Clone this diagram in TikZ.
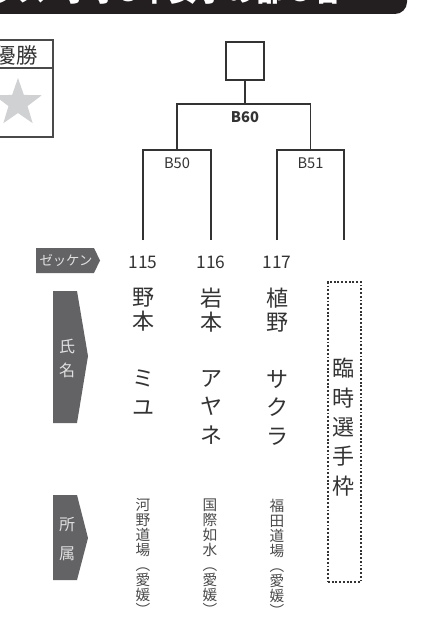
\documentclass[tikz,border=0pt]{standalone}
\usepackage{fontspec}
\setmainfont{Noto Sans CJK JP}
\usetikzlibrary{shapes.geometric}
\definecolor{ink}{HTML}{333333}
\definecolor{subink}{HTML}{4A4A4A}
\definecolor{tabgray}{HTML}{636366}
\definecolor{stargray}{HTML}{D0D1D3}
\definecolor{hdr}{HTML}{231F20}
\tikzset{
  line/.style={draw=ink, line width=1.1pt},
  num/.style={text=ink, font=\fontsize{13}{13}\selectfont, inner sep=0pt},
  sname/.style={text=ink, font=\fontsize{16.5}{18}\selectfont, align=center, inner sep=0pt},
  gname/.style={text=ink, font=\fontsize{16.5}{21.4}\selectfont, align=center, inner sep=0pt},
  club/.style={text=subink, font=\fontsize{11}{11.25}\selectfont, align=center, inner sep=0pt},
  tab/.style={fill=tabgray},
  tabtext/.style={text=white!88!black, inner sep=0pt, align=center},
  rnd/.style={text=ink, font=\fontsize{11}{11}\selectfont, inner sep=0pt},
}
\begin{document}
\begin{tikzpicture}[x=0.75pt,y=0.75pt,yscale=-1,xscale=1]
\clip (0,0) rectangle (432,624);

%Header bar
\fill[hdr, rounded corners=9pt] (-30,-40) rectangle (407,14);
\node[anchor=base east, text=white, font=\fontsize{22}{22}\selectfont\bfseries, inner sep=0pt] (cls) at (47,2) {クラス};
\node[anchor=base west, text=white, font=\fontsize{22}{22}\selectfont\bfseries, inner sep=0pt] (title) at (62,2) {小学3年女子の部 3名};

%Winner box
\draw[draw=subink, line width=0.8pt] (-40,40) rectangle (53,137);
\draw[draw=subink, line width=0.8pt] (-40,68) -- (53,68);
\node[text=ink, font=\fontsize{16}{16}\selectfont, inner sep=0pt] (yusho) at (16,55) {優勝};
\node[star, star points=5, star point ratio=2.5, fill=stargray, minimum size=37.5pt, inner sep=0pt] (star) at (18,103) {};

%Bracket
\node[line, minimum size=28.5pt, inner sep=0pt] (champ) at (245,61) {};
\coordinate (b60) at (245,104);
\coordinate (b50) at (177,150);
\coordinate (b51) at (310.5,150);
\coordinate (e115) at (143,240);
\coordinate (e116) at (211,240);
\coordinate (e117) at (277,240);
\coordinate (e118) at (344,240);
\draw[line] (champ.south) -- (b60);
\draw[line] (b50) |- (b60) -| (b51);
\draw[line] (e115) |- (b50) -| (e116);
\draw[line] (e117) |- (b51) -| (e118);
\node[rnd, font=\fontsize{11}{11}\selectfont\bfseries] (lb60) at (245,117) {B60};
\node[rnd] (lb50) at (177,163) {B50};
\node[rnd] (lb51) at (310.5,163) {B51};

%Row tabs
\fill[tab] (36,248) -- (94,248) -- (100,260.5) -- (94,273) -- (36,273) -- cycle;
\node[tabtext, font=\fontsize{10}{10}\selectfont] (zekken) at (66,260.5) {ゼッケン};
\fill[tab] (53,291) -- (77,291) -- (88,356) -- (77,423) -- (53,423) -- cycle;
\node[tabtext, font=\fontsize{12}{18}\selectfont, anchor=north] (shimei) at (67,339) {氏\\名};
\fill[tab] (53,495) -- (77,495) -- (88,538) -- (77,580) -- (53,580) -- cycle;
\node[tabtext, font=\fontsize{12}{21.5}\selectfont, anchor=north] (shozoku) at (67,517) {所\\属};

% Text Node
\node[num, anchor=north] (n115) at (143,255.5) {115};
\node[num, anchor=north] (n116) at (211,255.5) {116};
\node[num, anchor=north] (n117) at (277,255.5) {117};
% Text Node
\node[sname, anchor=north] (s115) at (143,288) {野\\本};
\node[sname, anchor=north] (s116) at (211,288) {岩\\本};
\node[sname, anchor=north] (s117) at (277,288) {植\\野};
% Text Node
\node[gname, anchor=north] (g115) at (143,370) {ミ\\ユ};
\node[gname, anchor=north] (g116) at (211,370) {ア\\ヤ\\ネ};
\node[gname, anchor=north] (g117) at (277,370) {サ\\ク\\ラ};
% Text Node
\node[club, anchor=north] (c115) at (143,498.5) {河\\野\\道\\場\\︵\\愛\\媛\\︶};
\node[club, anchor=north] (c116) at (210,498.5) {国\\際\\如\\水\\︵\\愛\\媛\\︶};
\node[club, anchor=north] (c117) at (277,498.5) {福\\田\\道\\場\\︵\\愛\\媛\\︶};

%Open slot
\node[draw=ink, line width=0.9pt, dash pattern=on 1.4pt off 1.4pt, minimum width=24.75pt, minimum height=225pt, inner sep=0pt] (slot) at (344.5,432) {};
\node[gname, font=\fontsize{16.5}{22}\selectfont, anchor=north] (slotname) at (343,358) {臨\\時\\選\\手\\枠};

\end{tikzpicture}
\end{document}
